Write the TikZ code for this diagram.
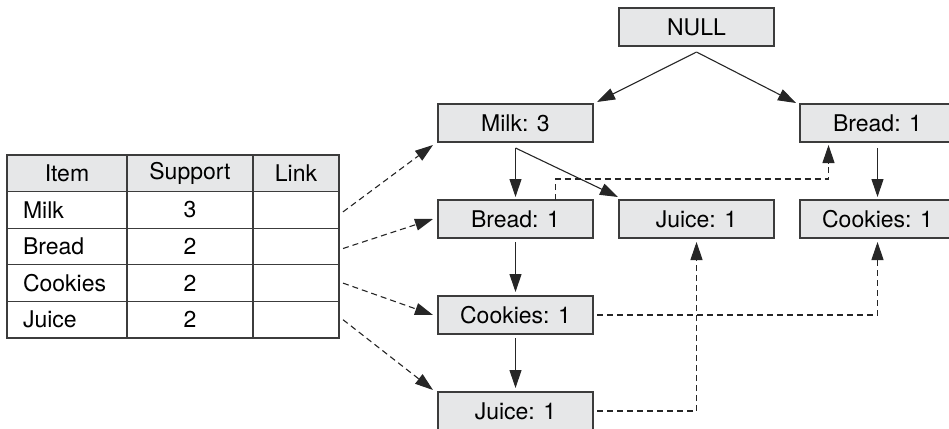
\documentclass[tikz,border=0pt]{standalone}
\usepackage{fontspec}
\setmainfont{TeX Gyre Heros}
\usetikzlibrary{arrows.meta,positioning,calc}
\definecolor{boxgray}{RGB}{230,231,232}
\definecolor{edgegray}{RGB}{60,60,60}

\begin{document}
\begin{tikzpicture}[x=1pt, y=1pt, font=\fontsize{23}{27}\selectfont, >={Triangle[length=18pt,width=12pt]}, node distance=58pt and 26pt,
box/.style={draw=edgegray, line width=1.3pt, fill=boxgray, minimum width=155pt, minimum height=38pt, inner sep=0pt, outer sep=0pt},
cell/.style={draw=edgegray, line width=1.3pt, minimum height=36.6pt, inner sep=0pt, outer sep=0pt},
itemcell/.style={cell, text width=88pt, inner xsep=16pt, align=left},
supcell/.style={cell, minimum width=126pt},
linkcell/.style={cell, minimum width=86pt},
head/.style={fill=boxgray},
arr/.style={->, line width=1.1pt, draw=black!85},
link/.style={->, line width=1.1pt, dash pattern=on 6pt off 4pt, draw=black!85}]
\useasboundingbox (0,0) rectangle (949,-428);
% header table
\node[itemcell, head, align=center] (hitem) at (67,-173.3) {Item};
\node[supcell, head, right=0pt of hitem] (hsup) {Support};
\node[linkcell, head, right=0pt of hsup] (hlink) {Link};
\node[itemcell, below=0pt of hitem] (imilk) {Milk};
\node[supcell, below=0pt of hsup] (smilk) {3};
\node[linkcell, below=0pt of hlink] (lmilk) {};
\node[itemcell, below=0pt of imilk] (ibread) {Bread};
\node[supcell, below=0pt of smilk] (sbread) {2};
\node[linkcell, below=0pt of lmilk] (lbread) {};
\node[itemcell, below=0pt of ibread] (icookies) {Cookies};
\node[supcell, below=0pt of sbread] (scookies) {2};
\node[linkcell, below=0pt of lbread] (lcookies) {};
\node[itemcell, below=0pt of icookies] (ijuice) {Juice};
\node[supcell, below=0pt of scookies] (sjuice) {2};
\node[linkcell, below=0pt of lcookies] (ljuice) {};
% tree
\node[box] (milk) at (515.5,-123) {Milk: 3};
\node[box, above right=58pt and 26pt of milk] (null) {NULL};
\node[box, below right=58pt and 26pt of null] (breadr) {Bread: 1};
\node[box, below=of milk] (breadm) {Bread: 1};
\node[box, right=of breadm] (juicem) {Juice: 1};
\node[box, right=of juicem] (cookiesr) {Cookies: 1};
\node[box, below=of breadm] (cookiesm) {Cookies: 1};
\node[box, below=of cookiesm] (juiceb) {Juice: 1};
\coordinate (top) at ($(null.south)+(0,-6)$);
\coordinate (fork) at ($(milk.south)+(0,-6)$);
\draw[arr] (top) -- ($(milk.north east)+(4,2)$);
\draw[arr] (top) -- ($(breadr.north west)+(-4,1)$);
\draw[arr] (fork) -- ($(breadm.north)+(0,3)$);
\draw[arr] (fork) -- ($(juicem.north west)+(-1,3)$);
\draw[arr, shorten <=6pt, shorten >=3pt] (breadr) -- (cookiesr);
\draw[arr, shorten <=4pt, shorten >=4pt] (breadm) -- (cookiesm);
\draw[arr, shorten <=4pt, shorten >=4pt] (cookiesm) -- (juiceb);
% node links
\draw[link] ($(lmilk.east)+(4,-2)$) -- ($(milk.south west)+(-5,-3)$);
\draw[link] ($(lbread.east)+(4,-2)$) -- ($(breadm.west)+(-5,0)$);
\draw[link] ($(lcookies.east)+(4,0)$) -- ($(cookiesm.west)+(-5,0)$);
\draw[link] ($(ljuice.east)+(4,0)$) -- ($(juiceb.north west)+(-5,2)$);
\draw[link] ($(breadm.north)+(40,0)$) -- ++(0,21) -| ($(breadr.south)+(-49,-3)$);
\draw[link] ($(cookiesm.east)+(4,0)$) -| ($(cookiesr.south)+(0,-4)$);
\draw[link] ($(juiceb.east)+(4,0)$) -| ($(juicem.south)+(0,-4)$);
\end{tikzpicture}
\end{document}
